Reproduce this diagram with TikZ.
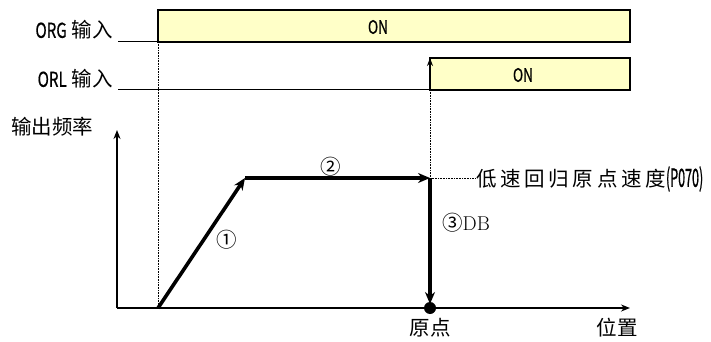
\documentclass[tikz,border=0pt]{standalone}
\usepackage{fontspec}
\newfontfamily\cjk{Noto Sans CJK SC}
\newfontfamily\cjkwide[LetterSpace=18]{Noto Sans CJK SC}
\newfontfamily\lat[FakeStretch=0.74, FakeBold=0.6]{Noto Sans CJK SC}
\newfontfamily\latn[FakeStretch=0.5, FakeBold=0.6]{Noto Sans CJK SC}
\usetikzlibrary{arrows.meta}
\definecolor{onyellow}{RGB}{255,255,200}
\begin{document}
\begin{tikzpicture}[x=1pt, y=-1pt,
  every node/.style={font=\cjk\fontsize{20.5}{24}\selectfont, inner sep=0pt},
  onlabel/.style={font=\lat\fontsize{18.5}{22}\selectfont},
  sigbox/.style={draw, line width=1.8pt, fill=onyellow},
  guide/.style={densely dotted, line width=0.6pt},
  axis/.style={line width=1.6pt, -{Stealth[length=9pt, width=7pt]}},
  curve/.style={line width=3.6pt, -{Stealth[length=12pt, width=10pt]}}]
  \useasboundingbox (0,0) rectangle (711,342);

  % input signals
  \coordinate (orgLo) at (118,42);
  \coordinate (orgUp) at (158,42);
  \coordinate (orgEnd) at (630,10);
  \coordinate (orlLo) at (118,90);
  \coordinate (orlUp) at (430,90);
  \coordinate (orlTop) at (430,58);
  \coordinate (orlEnd) at (630,58);

  \node[anchor=east] (org) at (113,30) {{\lat ORG}\hspace{5pt}输入};
  \node[anchor=east] (orl) at (113,79) {{\lat ORL}\hspace{5pt}输入};
  \draw[line width=1pt] (orgLo) -- (orgUp);
  \draw[sigbox] (orgUp) rectangle (orgEnd);
  \node[onlabel] (orgOn) at (378,27) {ON};
  \draw[line width=1pt] (orlLo) -- (orlUp);
  \draw[sigbox] (orlUp) rectangle (orlEnd);
  \draw[line width=1.8pt, -{Stealth[length=8pt, width=6pt]}] (orlUp) -- (orlTop);
  \node[onlabel] (orlOn) at (523,75) {ON};

  % axes
  \coordinate (O) at (117,308);
  \coordinate (yTop) at (117,130);
  \coordinate (xEnd) at (630,308);
  \draw[axis] (O) -- (yTop);
  \draw[axis] (O) -- (xEnd);
  \node (freq) at (52,127) {输出频率};
  \node (pos) at (617,328) {位置};

  % speed profile
  \coordinate (S) at (158,308);
  \coordinate (A) at (245,178);
  \coordinate (B) at (430,178);
  \coordinate (C) at (430,304);
  \coordinate (home) at (430,308);
  \coordinate (lowEnd) at (476,178);

  \draw[guide] (orgUp) -- (S);
  \draw[guide] (orlUp) -- (B);
  \draw[guide] (B) -- (lowEnd);

  \draw[curve] (S) -- (A);
  \draw[curve] (A) -- (B);
  \draw[curve] (B) -- (C);
  \fill (home) circle (6);

  \node (n1) at (227,240) {①};
  \node (n2) at (331,167) {②};
  \node[anchor=west] (n3) at (442,223) {③\rmfamily\fontsize{20}{24}\selectfont DB};
  \node[anchor=west] (low) at (476,179) {\cjkwide 低速回归原点速度\latn\fontsize{25}{28}\selectfont(P070)};
  \node (origin) at (430,328) {原点};
\end{tikzpicture}
\end{document}
